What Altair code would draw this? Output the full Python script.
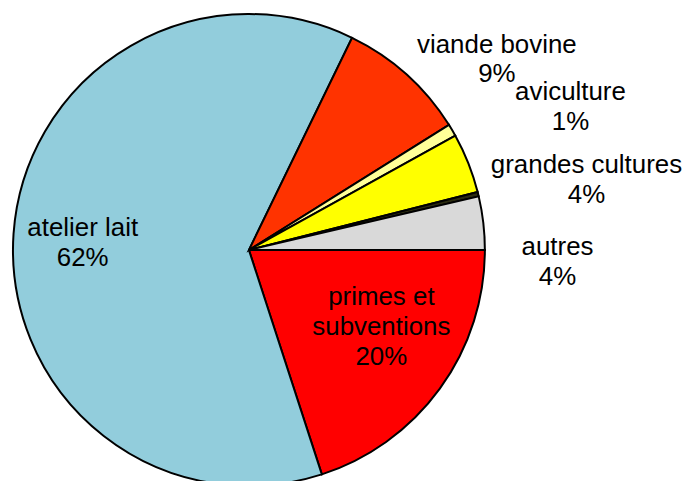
import math
import altair as alt
import pandas as pd

# ---- data ----
categories = ["primes et subventions", "atelier lait", "viande bovine", "aviculture",
              "grandes cultures", "divers", "autres"]
shares = [20.0, 62.2, 8.9, 0.85, 4.1, 0.3, 3.65]
colors = ["#FF0000", "#92CDDC", "#FF3300", "#FFFF99", "#FFFF00", "#2B2B10", "#D9D9D9"]

# label names (with line breaks) for the labelled slices
label_categories = ["primes et subventions", "atelier lait", "viande bovine", "aviculture",
                    "grandes cultures", "autres"]
label_names = ["primes et\nsubventions", "atelier lait", "viande bovine", "aviculture",
               "grandes cultures", "autres"]

# ---- label layout (angle in share units around the pie, radius in px) ----
label_theta = [5.41, 52.08, 88.99, 92.72, 96.08, 99.85]
label_radius = [141.1, 168.4, 323.4, 360.0, 349.6, 310.0]

share_of = dict(zip(categories, shares))
pie_df = pd.DataFrame({"category": categories, "share": shares, "idx": list(range(len(categories)))})
lab_df = pd.DataFrame({
    "text": [f"{n}\n{round(share_of[c])}%" for n, c in zip(label_names, label_categories)],
    "lt": label_theta,
    "lr": label_radius,
})

theta_scale = alt.Scale(domain=[0, 100], range=[math.pi / 2, math.pi / 2 + 2 * math.pi])
cx, cy = 242, 242

pie = alt.Chart(pie_df).mark_arc(radius=237, stroke="black", strokeWidth=2).encode(
    theta=alt.Theta("share:Q", stack=True, scale=theta_scale),
    color=alt.Color("category:N", scale=alt.Scale(domain=categories, range=colors), legend=None),
    order=alt.Order("idx:Q"),
    x=alt.value(cx),
    y=alt.value(cy),
)

labels = alt.Chart(lab_df).mark_text(
    font="Liberation Sans", fontSize=26, lineBreak="\n", lineHeight=30,
    align="center", baseline="middle", color="black",
).encode(
    theta=alt.Theta("lt:Q", stack=None, scale=theta_scale),
    radius=alt.Radius("lr:Q", scale=None),
    text="text:N",
    x=alt.value(cx),
    y=alt.value(cy),
)

chart = alt.layer(pie, labels).properties(
    width=675, height=473, padding=0
).configure_view(stroke=None)

chart.save("out.html", embed_options={"renderer": "svg", "actions": False})
